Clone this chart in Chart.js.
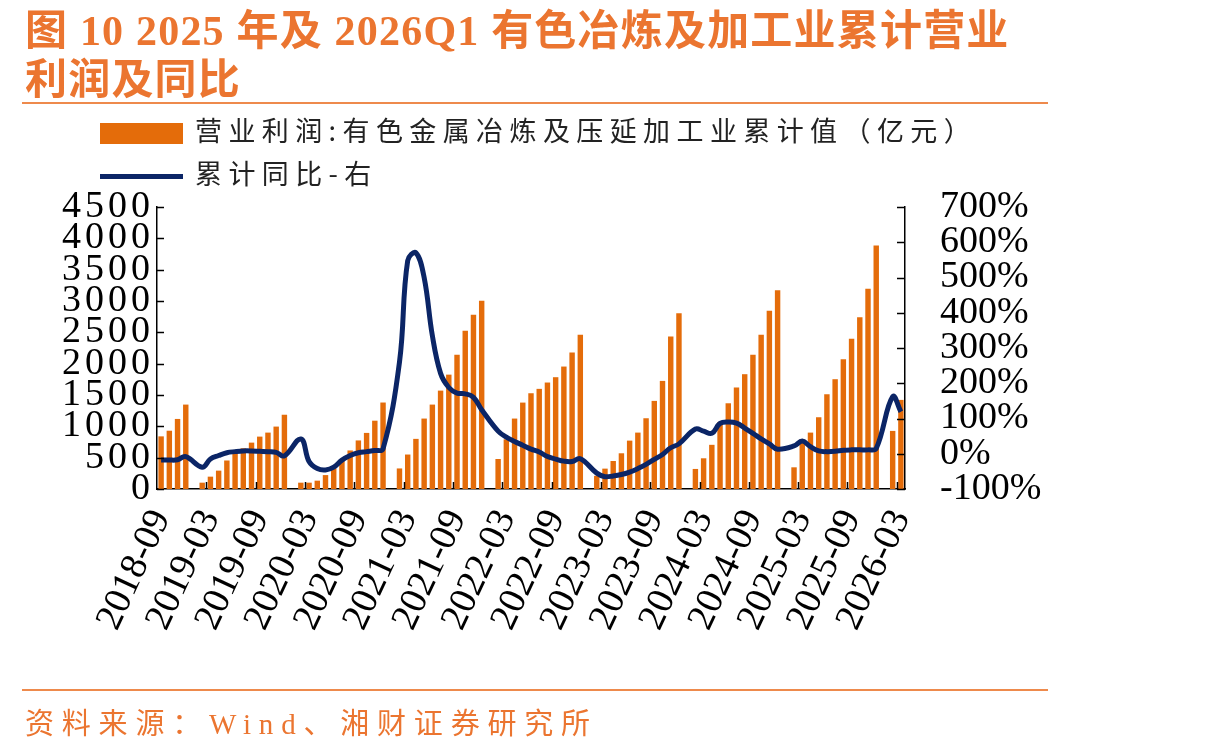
<!DOCTYPE html>
<html>
<head>
<meta charset="utf-8">
<script src="https://cdn.jsdelivr.net/npm/chart.js@4.4.1/dist/chart.umd.min.js"></script>
<style>
  html, body { margin: 0; padding: 0; background: #fff; }
  #page { position: relative; width: 1212px; height: 752px; overflow: hidden; }
  #chart { position: absolute; left: 0; top: 0; }
  .title { position: absolute; left: 25px; top: 7px; font: bold 42px/49px 'Liberation Serif', 'Noto Sans CJK SC', serif; color: #EB7530; letter-spacing: 1.2px; white-space: nowrap; }
  .rule { position: absolute; left: 22px; width: 1026px; height: 2px; background: #EE8A4C; }
  .legend { position: absolute; left: 100px; font: 27px 'Noto Sans CJK SC', sans-serif; color: #222; letter-spacing: 6.4px; white-space: nowrap; }
  .legend i { display: inline-block; width: 83px; vertical-align: middle; margin-right: 12px; }
  .source { position: absolute; left: 25px; top: 700px; font: 29px 'Liberation Serif', 'Noto Sans CJK SC', serif; color: #EB7530; letter-spacing: 7.8px; white-space: nowrap; }
</style>
</head>
<body>
<div id="page">
  <canvas id="chart" width="1212" height="752"></canvas>
  <div class="title">图 10 2025 年及 2026Q1 有色冶炼及加工业累计营业<br>利润及同比</div>
  <div class="rule" style="top:102px"></div>
  <div class="legend" style="top:110px"><i style="height:21px;background:#E46C0A"></i>营业利润:有色金属冶炼及压延加工业累计值（亿元）</div>
  <div class="legend" style="top:153px"><i style="height:5px;background:#0B2566"></i>累计同比-右</div>
  <div class="rule" style="top:689px"></div>
  <div class="source">资料来源：Wind、湘财证券研究所</div>
</div>
<script>
// 月份（2018-09 至 2026-03），1月无数据
const months = [
  '2018-09','2018-10','2018-11','2018-12',
  '2019-01','2019-02','2019-03','2019-04','2019-05','2019-06','2019-07','2019-08','2019-09','2019-10','2019-11','2019-12',
  '2020-01','2020-02','2020-03','2020-04','2020-05','2020-06','2020-07','2020-08','2020-09','2020-10','2020-11','2020-12',
  '2021-01','2021-02','2021-03','2021-04','2021-05','2021-06','2021-07','2021-08','2021-09','2021-10','2021-11','2021-12',
  '2022-01','2022-02','2022-03','2022-04','2022-05','2022-06','2022-07','2022-08','2022-09','2022-10','2022-11','2022-12',
  '2023-01','2023-02','2023-03','2023-04','2023-05','2023-06','2023-07','2023-08','2023-09','2023-10','2023-11','2023-12',
  '2024-01','2024-02','2024-03','2024-04','2024-05','2024-06','2024-07','2024-08','2024-09','2024-10','2024-11','2024-12',
  '2025-01','2025-02','2025-03','2025-04','2025-05','2025-06','2025-07','2025-08','2025-09','2025-10','2025-11','2025-12',
  '2026-01','2026-02','2026-03'
];

// 营业利润累计值（亿元）
const profit = [
  840, 930, 1118, 1347,
  null, 101, 197, 293, 455, 586, 650, 740, 836, 900, 996, 1185,
  null, 101, 101, 133, 222, 330, 463, 615, 775, 895, 1090, 1380,
  null, 328, 550, 800, 1124, 1347, 1570, 1825, 2141, 2524, 2782, 3003,
  null, 479, 793, 1124, 1379, 1528, 1598, 1699, 1784, 1954, 2178, 2460,
  null, 210, 325, 447, 570, 772, 900, 1129, 1406, 1725, 2434, 2806,
  null, 320, 490, 705, 1070, 1368, 1620, 1832, 2141, 2460, 2844, 3170,
  null, 346, 793, 900, 1145, 1512, 1752, 2071, 2396, 2742, 3195, 3887,
  null, 927, 1422
];

// 累计同比（%），右轴
const yoy = [
  -18, -18, -17, -8,
  null, -38, -15, -5, 3, 6, 8, 8, 7, 6, 4, -6,
  null, 42, -22, -42, -46, -38, -18, -5, 3, 6, 9, 14,
  null, 260, 548, 570, 500, 335, 228, 188, 172, 170, 160, 125,
  null, 64, 47, 35, 24, 13, 5, -8, -15, -21, -22, -14,
  null, -55, -65, -63, -59, -52, -42, -30, -16, -2, 17, 28,
  null, 70, 64, 58, 86, 90, 87, 73, 58, 42, 28, 13,
  null, 22, 36, 20, 8, 6, 7, 10, 11, 11, 11, 15,
  null, 162, 119
];

const serif = "'Liberation Serif', 'Times New Roman', serif";

// 左轴数字字距较宽：左轴标签放在数据之后绘制，期间加字距
const leftLabelSpacing = {
  id: 'leftLabelSpacing',
  afterDatasetsDraw(chart) { chart.ctx.letterSpacing = '4px'; },
  afterDraw(chart) { chart.ctx.letterSpacing = '0px'; }
};

// 坐标轴内侧刻度线
const tickMarks = {
  id: 'tickMarks',
  afterDraw(chart) {
    const { ctx, chartArea: a, scales: { x, y, y1 } } = chart;
    const half = (x.getPixelForValue(1) - x.getPixelForValue(0)) / 2;
    ctx.save();
    ctx.strokeStyle = '#000';
    ctx.lineWidth = 1.5;
    ctx.beginPath();
    for (let i = 6; i < months.length; i += 6) {
      const px = Math.round(x.getPixelForValue(i) - half) + 0.5;
      ctx.moveTo(px, a.bottom);
      ctx.lineTo(px, a.bottom - 7);
    }
    y.ticks.forEach(t => {
      const py = Math.round(y.getPixelForValue(t.value)) + 0.5;
      ctx.moveTo(a.left, py);
      ctx.lineTo(a.left + 7, py);
    });
    y1.ticks.forEach(t => {
      const py = Math.round(y1.getPixelForValue(t.value)) + 0.5;
      ctx.moveTo(a.right, py);
      ctx.lineTo(a.right - 8, py);
    });
    ctx.stroke();
    ctx.restore();
  }
};

new Chart(document.getElementById('chart'), {
  type: 'bar',
  data: {
    labels: months,
    datasets: [
      {
        type: 'line',
        label: '累计同比-右',
        data: yoy,
        yAxisID: 'y1',
        borderColor: '#0B2566',
        borderWidth: 5,
        pointRadius: 0,
        tension: 0.4,
        spanGaps: true,
        order: 0
      },
      {
        label: '营业利润:有色金属冶炼及压延加工业累计值（亿元）',
        data: profit,
        yAxisID: 'y',
        backgroundColor: '#E46C0A',
        categoryPercentage: 1,
        barPercentage: 0.66,
        order: 1
      }
    ]
  },
  options: {
    responsive: false,
    animation: false,
    layout: { padding: { top: 207, left: 0, right: 0, bottom: 0 } },
    plugins: { legend: { display: false }, tooltip: { enabled: false } },
    scales: {
      x: {
        offset: true,
        grid: { display: false, drawTicks: false },
        border: { display: true, color: '#000', width: 1.5 },
        ticks: {
          autoSkip: false,
          maxRotation: 65,
          minRotation: 65,
          padding: 14,
          color: '#000',
          font: { family: serif, size: 38 },
          callback: (v, i) => (i % 6 === 0 ? months[i] : '')
        },
        afterFit: s => { s.height = 752 - 489; }
      },
      y: {
        position: 'left',
        min: 0,
        max: 4500,
        grid: { display: false, drawTicks: false },
        border: { display: true, color: '#000', width: 1.5 },
        ticks: {
          z: 1,
          stepSize: 500,
          autoSkip: false,
          padding: 3,
          color: '#000',
          font: { family: serif, size: 38 },
          callback: v => String(v)
        },
        afterFit: s => { s.width = 157; }
      },
      y1: {
        position: 'right',
        min: -100,
        max: 700,
        grid: { display: false, drawTicks: false },
        border: { display: true, color: '#000', width: 1.5 },
        ticks: {
          stepSize: 100,
          autoSkip: false,
          padding: 35,
          color: '#000',
          font: { family: serif, size: 38 },
          callback: v => v + '%'
        },
        afterFit: s => { s.width = 1212 - 905; }
      }
    }
  },
  plugins: [leftLabelSpacing, tickMarks]
});
</script>
</body>
</html>
